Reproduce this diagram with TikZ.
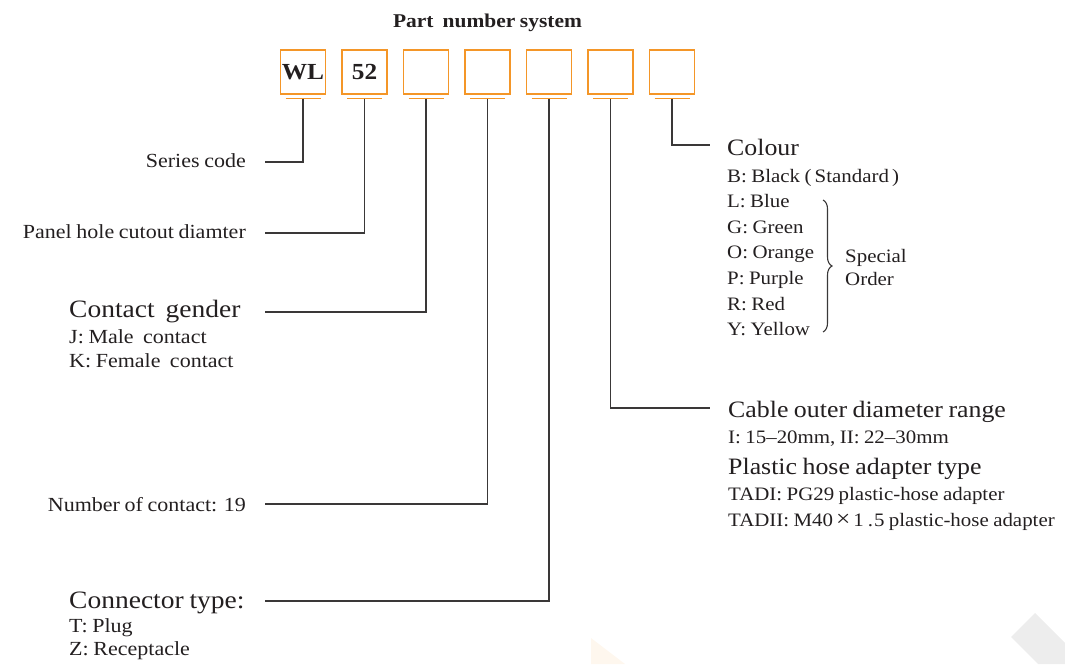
\documentclass[tikz,border=0pt]{standalone}
\usepackage{fontspec}
\setmainfont{Liberation Serif}[FakeStretch=1.1,WordSpace=0.85]
\usetikzlibrary{decorations.pathreplacing}
\definecolor{boxorange}{RGB}{244,150,40}
\definecolor{inkgray}{RGB}{35,31,32}
\definecolor{linegray}{RGB}{58,56,56}
\newcommand{\bigfnt}{\fontsize{23.5}{26}\selectfont}
\newcommand{\smallfnt}{\fontsize{20}{24}\selectfont}
\tikzset{
  pbox/.style={draw=boxorange,line width=1.4pt,minimum width=45pt,minimum height=44pt,
    inner sep=0pt,text=inkgray,font=\fontsize{23}{26}\selectfont\bfseries},
  conn/.style={linegray,line width=1.2pt},
  lbl/.style={inner sep=0pt,text=inkgray,font=\smallfnt},
  rlbl/.style={lbl,font=\fontsize{19}{23}\selectfont},
  head/.style={inner sep=0pt,text=inkgray,font=\bigfnt},
  lhead/.style={head,font=\fontsize{25}{28}\selectfont}
}

\begin{document}
\begin{tikzpicture}[x=1pt,y=-1pt]
\useasboundingbox (0,0) rectangle (1065,664);
% faint marks of the page
\fill[boxorange!8] (591,638) -- (625,664) -- (591,664) -- cycle;
\fill[black!7] (1011,637) -- (1035,613) -- (1065,643) -- (1065,664) -- (1038,664) -- cycle;

\node[inner sep=0pt,text=inkgray,font=\fontsize{19.5}{24}\selectfont\bfseries,anchor=base] (title) at (487.5,27) {Part\ \ number system};

% the seven boxes
\foreach \i/\t in {1/WL,2/52,3/,4/,5/,6/,7/}{
  \node[pbox] (b\i) at ({303+61.5*(\i-1)},72) {\t};
  \coordinate (u\i) at ([yshift=-4pt]b\i.south);
  \draw[boxorange,line width=1.4pt] ([xshift=-17.5pt]u\i) -- ([xshift=17.5pt]u\i);
}

% ends of the leaders
\coordinate (c1) at (265,162);
\coordinate (c2) at (265,233);
\coordinate (c3) at (265,312);
\coordinate (c4) at (265,504);
\coordinate (c5) at (265,601);
\coordinate (c6) at (710,408);
\coordinate (c7) at (710,145);
\foreach \i in {1,...,7}
  \draw[conn] (u\i) |- (c\i);

% left side
\node[lbl,anchor=base east] (series) at (246,167) {Series code};
\node[lbl,anchor=base east] (panel) at (246,238) {Panel hole cutout diamter};
\node[lhead,anchor=base west] (gender) at (69,317) {Contact\hspace{11pt}gender};
\node[lbl,anchor=base west] (gj) at (69,343) {J: Male\ \ contact};
\node[lbl,anchor=base west] (gk) at (69,367) {K: Female\ \ contact};
\node[lbl,anchor=base east] (number) at (246,511) {Number of contact: 19};
\node[lhead,anchor=base west] (ctype) at (69,608) {Connector type:};
\node[lbl,anchor=base west] (ct) at (69,632) {T: Plug};
\node[lbl,anchor=base west] (cz) at (69,655) {Z: Receptacle};

% colour
\node[head,anchor=base west] (colour) at (727,155) {Colour};
\foreach \t [count=\k from 0] in {B: Black (\,Standard\,),L: Blue,G: Green,O: Orange,P: Purple,R: Red,Y: Yellow}
  \node[rlbl,anchor=base west] (col\k) at (727,{182+25.6*\k}) {\t};
\draw[linegray,line width=1.1pt,decorate,decoration={brace,amplitude=9pt}] (823,200) -- (823,332);
\node[rlbl,anchor=base west] (special) at (845,262) {Special};
\node[rlbl,anchor=base west] (order) at (845,285) {Order};

% cable and adapter
\node[head,anchor=base west] (cable) at (728,417) {Cable outer diameter range};
\node[rlbl,anchor=base west] (range) at (728,443) {I: 15–20mm, II: 22–30mm};
\node[head,anchor=base west] (hose) at (728,474) {Plastic hose adapter type};
\node[rlbl,anchor=base west] (tad1) at (728,500) {TADI: PG29 plastic-hose adapter};
\node[rlbl,anchor=base west] (tad2) at (728,526) {TADII: M40\kern3pt{\fontsize{23}{23}\selectfont×}\kern3pt1\kern4pt.\kern1pt5 plastic-hose adapter};
\end{tikzpicture}
\end{document}
